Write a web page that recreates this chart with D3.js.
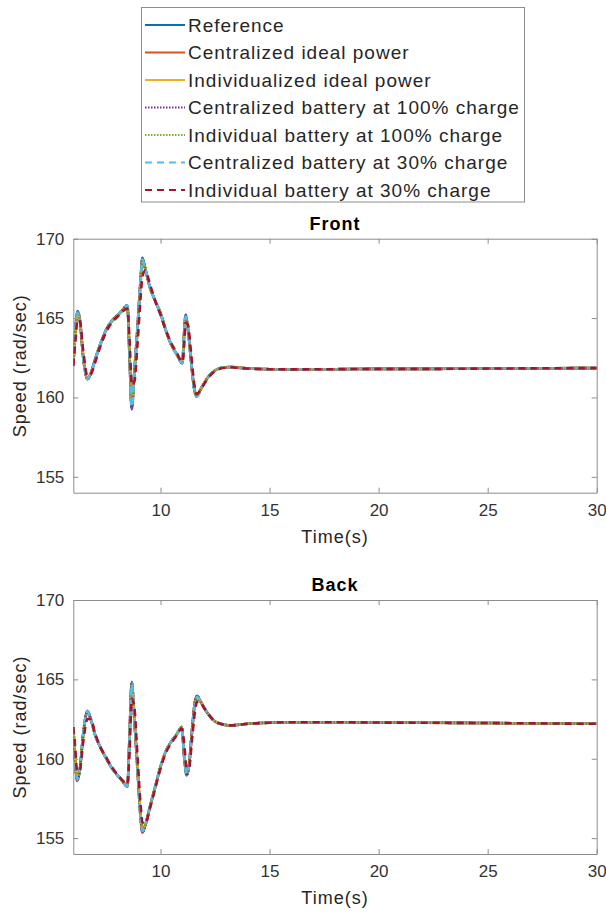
<!DOCTYPE html>
<html>
<head>
<meta charset="utf-8">
<script src="https://cdn.jsdelivr.net/npm/d3@7"></script>
<style>
  body { margin: 0; background: #fff; }
  svg text { font-family: "Liberation Sans", Arial, sans-serif; fill: #262626; }
</style>
</head>
<body>
<div id="chart"></div>
<script>
// series names and styles (legend order = draw order)
var seriesNames = [
  "Reference",
  "Centralized ideal power",
  "Individualized ideal power",
  "Centralized battery at 100% charge",
  "Individual battery at 100% charge",
  "Centralized battery at 30% charge",
  "Individual battery at 30% charge"
];
var seriesColors = ["#0072BD", "#D95319", "#EDB120", "#7E2F8E", "#77AC30", "#4DBEEE", "#A2142F"];
var seriesDash = [null, null, null, "1.5,1.5", "1.5,1.5", "7,5", "7,5"];

var xTicks = [10, 15, 20, 25, 30];
var yTicks = [155, 160, 165, 170];

// Front
var timeFront = [6.0, 6.1, 6.2, 6.3, 6.45, 6.65, 6.8, 7.0, 7.25, 7.5, 7.75, 8.0, 8.25, 8.48, 8.58, 8.68, 8.8, 8.95, 9.08, 9.17, 9.3, 9.5, 9.75, 10.0, 10.25, 10.5, 10.75, 11.0, 11.08, 11.15, 11.25, 11.4, 11.55, 11.66, 11.8, 12.0, 12.25, 12.5, 12.75, 13.0, 13.25, 13.5, 14.0, 15.0, 16.0, 18.0, 20.0, 22.0, 25.0, 28.0, 30.0];
var frontReference = [162.0, 164.3, 165.45, 164.9, 162.6, 161.15, 161.5, 162.4, 163.4, 164.25, 164.8, 165.15, 165.5, 165.8, 162.5, 159.25, 161.6, 164.5, 167.3, 168.8, 168.1, 167.0, 166.1, 165.3, 164.2, 163.3, 162.7, 162.15, 164.0, 165.2, 164.4, 162.3, 160.5, 160.05, 160.4, 160.9, 161.4, 161.7, 161.85, 161.9, 161.92, 161.88, 161.83, 161.78, 161.77, 161.78, 161.8, 161.8, 161.82, 161.84, 161.85];
var frontCentralizedIdeal = [162.0, 164.3, 165.4, 164.9, 162.6, 161.15, 161.5, 162.4, 163.4, 164.25, 164.8, 165.15, 165.5, 165.8, 162.55, 159.35, 161.6, 164.5, 167.3, 168.7, 168.1, 167.0, 166.1, 165.3, 164.2, 163.3, 162.7, 162.15, 164.0, 165.15, 164.4, 162.3, 160.5, 160.1, 160.4, 160.9, 161.4, 161.7, 161.85, 161.9, 161.92, 161.88, 161.83, 161.78, 161.77, 161.78, 161.8, 161.8, 161.82, 161.84, 161.85];
var frontIndividualizedIdeal = [162.0, 164.1, 165.3, 164.9, 162.7, 161.2, 161.5, 162.35, 163.35, 164.2, 164.75, 165.1, 165.45, 165.75, 162.8, 159.6, 161.4, 164.3, 167.1, 168.5, 168.1, 167.0, 166.1, 165.3, 164.2, 163.3, 162.7, 162.2, 163.8, 165.0, 164.4, 162.4, 160.6, 160.1, 160.4, 160.9, 161.4, 161.7, 161.85, 161.9, 161.92, 161.88, 161.83, 161.78, 161.77, 161.78, 161.8, 161.8, 161.82, 161.84, 161.85];
var frontCentralized100 = [162.0, 164.3, 165.4, 164.9, 162.6, 161.15, 161.5, 162.4, 163.4, 164.25, 164.8, 165.15, 165.5, 165.8, 162.5, 159.3, 161.6, 164.5, 167.3, 168.75, 168.1, 167.0, 166.1, 165.3, 164.2, 163.3, 162.7, 162.15, 164.0, 165.2, 164.4, 162.3, 160.5, 160.05, 160.4, 160.9, 161.4, 161.7, 161.85, 161.9, 161.92, 161.88, 161.83, 161.78, 161.77, 161.78, 161.8, 161.8, 161.82, 161.84, 161.85];
var frontIndividual100 = [162.0, 164.1, 165.3, 164.9, 162.7, 161.2, 161.5, 162.35, 163.35, 164.2, 164.75, 165.1, 165.45, 165.75, 162.7, 159.5, 161.4, 164.3, 167.1, 168.6, 168.1, 167.0, 166.1, 165.3, 164.2, 163.3, 162.7, 162.2, 163.8, 165.0, 164.4, 162.4, 160.6, 160.1, 160.4, 160.9, 161.4, 161.7, 161.85, 161.9, 161.92, 161.88, 161.83, 161.78, 161.77, 161.78, 161.8, 161.8, 161.82, 161.84, 161.85];
var frontCentralized30 = [162.0, 164.25, 165.35, 164.9, 162.6, 161.15, 161.5, 162.4, 163.4, 164.25, 164.8, 165.15, 165.5, 165.8, 162.6, 159.4, 161.6, 164.5, 167.3, 168.7, 168.1, 167.0, 166.1, 165.3, 164.2, 163.3, 162.7, 162.15, 163.95, 165.1, 164.4, 162.3, 160.5, 160.05, 160.4, 160.9, 161.4, 161.7, 161.85, 161.9, 161.92, 161.88, 161.83, 161.78, 161.77, 161.78, 161.8, 161.8, 161.82, 161.84, 161.85];
var frontIndividual30 = [162.0, 163.6, 164.9, 164.8, 163.0, 161.35, 161.45, 162.2, 163.25, 164.1, 164.7, 165.05, 165.4, 165.6, 163.6, 160.8, 161.0, 163.5, 166.2, 167.6, 168.0, 167.2, 166.1, 165.2, 164.2, 163.4, 162.8, 162.25, 163.2, 164.7, 164.6, 162.8, 160.8, 160.2, 160.4, 160.85, 161.35, 161.65, 161.82, 161.88, 161.9, 161.87, 161.82, 161.78, 161.77, 161.78, 161.8, 161.8, 161.82, 161.84, 161.85];

// Back
var timeBack = [6.0, 6.08, 6.18, 6.3, 6.45, 6.65, 6.8, 7.0, 7.25, 7.5, 7.75, 8.0, 8.25, 8.48, 8.58, 8.68, 8.8, 8.95, 9.08, 9.17, 9.3, 9.5, 9.75, 10.0, 10.25, 10.5, 10.75, 10.97, 11.08, 11.2, 11.3, 11.45, 11.58, 11.68, 11.8, 12.0, 12.25, 12.5, 12.75, 13.0, 13.25, 13.5, 14.0, 15.0, 16.0, 18.0, 20.0, 22.0, 25.0, 28.0, 30.0];
var backReference = [162.0, 160.0, 158.6, 159.3, 161.5, 163.0, 162.5, 161.5, 160.7, 160.05, 159.45, 159.0, 158.6, 158.25, 161.5, 164.85, 162.5, 159.2, 156.4, 155.35, 155.8, 156.9, 158.2, 159.5, 160.5, 161.1, 161.55, 162.0, 160.2, 158.95, 159.5, 161.9, 163.6, 163.97, 163.7, 163.2, 162.7, 162.35, 162.2, 162.12, 162.1, 162.13, 162.2, 162.27, 162.3, 162.3, 162.28, 162.27, 162.25, 162.22, 162.2];
var backCentralizedIdeal = [162.0, 160.0, 158.65, 159.3, 161.5, 163.0, 162.5, 161.5, 160.7, 160.05, 159.45, 159.0, 158.6, 158.25, 161.5, 164.8, 162.5, 159.2, 156.4, 155.4, 155.8, 156.9, 158.2, 159.5, 160.5, 161.1, 161.55, 162.0, 160.2, 159.0, 159.5, 161.9, 163.6, 163.95, 163.7, 163.2, 162.7, 162.35, 162.2, 162.12, 162.1, 162.13, 162.2, 162.27, 162.3, 162.3, 162.28, 162.27, 162.25, 162.22, 162.2];
var backIndividualizedIdeal = [162.0, 160.3, 158.8, 159.3, 161.4, 162.9, 162.5, 161.5, 160.7, 160.05, 159.45, 159.0, 158.6, 158.3, 161.2, 164.6, 162.7, 159.4, 156.6, 155.6, 155.85, 156.9, 158.2, 159.5, 160.5, 161.1, 161.55, 162.0, 160.4, 159.1, 159.5, 161.7, 163.4, 163.85, 163.7, 163.2, 162.7, 162.35, 162.2, 162.12, 162.1, 162.13, 162.2, 162.27, 162.3, 162.3, 162.28, 162.27, 162.25, 162.22, 162.2];
var backCentralized100 = [162.0, 160.0, 158.65, 159.3, 161.5, 163.0, 162.5, 161.5, 160.7, 160.05, 159.45, 159.0, 158.6, 158.25, 161.5, 164.8, 162.5, 159.2, 156.4, 155.4, 155.8, 156.9, 158.2, 159.5, 160.5, 161.1, 161.55, 162.0, 160.2, 158.95, 159.5, 161.9, 163.6, 163.97, 163.7, 163.2, 162.7, 162.35, 162.2, 162.12, 162.1, 162.13, 162.2, 162.27, 162.3, 162.3, 162.28, 162.27, 162.25, 162.22, 162.2];
var backIndividual100 = [162.0, 160.3, 158.8, 159.3, 161.4, 162.9, 162.5, 161.5, 160.7, 160.05, 159.45, 159.0, 158.6, 158.3, 161.2, 164.6, 162.7, 159.4, 156.6, 155.6, 155.85, 156.9, 158.2, 159.5, 160.5, 161.1, 161.55, 162.0, 160.4, 159.1, 159.5, 161.7, 163.4, 163.85, 163.7, 163.2, 162.7, 162.35, 162.2, 162.12, 162.1, 162.13, 162.2, 162.27, 162.3, 162.3, 162.28, 162.27, 162.25, 162.22, 162.2];
var backCentralized30 = [162.0, 160.1, 158.7, 159.3, 161.5, 163.0, 162.5, 161.5, 160.7, 160.05, 159.45, 159.0, 158.6, 158.25, 161.4, 164.75, 162.6, 159.3, 156.45, 155.45, 155.8, 156.9, 158.2, 159.5, 160.5, 161.1, 161.55, 162.0, 160.3, 159.05, 159.5, 161.8, 163.5, 163.9, 163.7, 163.2, 162.7, 162.35, 162.2, 162.12, 162.1, 162.13, 162.2, 162.27, 162.3, 162.3, 162.28, 162.27, 162.25, 162.22, 162.2];
var backIndividual30 = [162.0, 160.8, 159.2, 159.3, 161.0, 162.5, 162.5, 161.6, 160.7, 160.1, 159.5, 159.05, 158.65, 158.4, 160.5, 163.8, 163.2, 160.0, 157.2, 156.0, 155.9, 156.8, 158.1, 159.4, 160.4, 161.0, 161.5, 161.9, 161.0, 159.4, 159.4, 161.3, 163.0, 163.6, 163.6, 163.2, 162.7, 162.35, 162.2, 162.12, 162.1, 162.13, 162.2, 162.27, 162.3, 162.3, 162.28, 162.27, 162.25, 162.22, 162.2];

var frontValues = [frontReference, frontCentralizedIdeal, frontIndividualizedIdeal, frontCentralized100, frontIndividual100, frontCentralized30, frontIndividual30];
var backValues = [backReference, backCentralizedIdeal, backIndividualizedIdeal, backCentralized100, backIndividual100, backCentralized30, backIndividual30];

var width = 606,
    height = 912,
    plotLeft = 73.3,
    plotWidth = 523.4,
    plotHeight = 254;

var svg = d3.select("#chart")
    .append("svg")
    .attr("width", width)
    .attr("height", height);

function drawPanel(top, title, times, values, id) {
    var x = d3.scaleLinear().domain([6, 30]).range([0, plotWidth]);
    var y = d3.scaleLinear().domain([154, 170]).range([plotHeight, 0]);

    var g = svg.append("g").attr("transform", "translate(" + plotLeft + "," + top + ")");

    g.append("defs").append("clipPath").attr("id", "clip" + id)
        .append("rect").attr("width", plotWidth).attr("height", plotHeight);

    // box with inward ticks on all four sides
    g.append("g").attr("transform", "translate(0," + plotHeight + ")")
        .call(d3.axisBottom(x).tickValues(xTicks).tickSizeInner(-5).tickSizeOuter(0).tickPadding(11))
        .call(styleAxis);
    g.append("g")
        .call(d3.axisTop(x).tickValues(xTicks).tickSizeInner(-5).tickSizeOuter(0).tickFormat(""))
        .call(styleAxis);
    g.append("g")
        .call(d3.axisLeft(y).tickValues(yTicks).tickSizeInner(-5).tickSizeOuter(0).tickPadding(9))
        .call(styleAxis);
    g.append("g").attr("transform", "translate(" + plotWidth + ",0)")
        .call(d3.axisRight(y).tickValues(yTicks).tickSizeInner(-5).tickSizeOuter(0).tickFormat(""))
        .call(styleAxis);

    var line = d3.line()
        .x(function(d) { return x(d[0]); })
        .y(function(d) { return y(d[1]); })
        .curve(d3.curveMonotoneX);

    var lines = g.append("g").attr("clip-path", "url(#clip" + id + ")");
    values.forEach(function(vals, i) {
        lines.append("path")
            .datum(times.map(function(t, j) { return [t, vals[j]]; }))
            .attr("d", line)
            .attr("fill", "none")
            .attr("stroke", seriesColors[i])
            .attr("stroke-width", 2.6)
            .attr("stroke-dasharray", seriesDash[i]);
    });

    g.append("text")
        .attr("x", plotWidth / 2).attr("y", -9)
        .attr("text-anchor", "middle")
        .attr("font-size", 18).attr("font-weight", "bold")
        .attr("letter-spacing", 1)
        .style("fill", "#000")
        .text(title);

    g.append("text")
        .attr("x", plotWidth / 2).attr("y", plotHeight + 50)
        .attr("text-anchor", "middle")
        .attr("font-size", 18)
        .attr("letter-spacing", 1)
        .text("Time(s)");

    g.append("text")
        .attr("transform", "translate(" + (-47) + "," + (plotHeight / 2) + ") rotate(-90)")
        .attr("text-anchor", "middle")
        .attr("font-size", 18)
        .attr("letter-spacing", 1)
        .text("Speed (rad/sec)");
}

function styleAxis(sel) {
    sel.select(".domain").attr("stroke", "#8c8c8c");
    sel.selectAll(".tick line").attr("stroke", "#8c8c8c");
    sel.selectAll(".tick text").attr("font-size", 17).attr("font-family", null).style("fill", "#333");
}

drawPanel(238.7, "Front", timeFront, frontValues, "front");
drawPanel(600, "Back", timeBack, backValues, "back");

// legend
var legend = svg.append("g");
legend.append("rect")
    .attr("x", 141.5).attr("y", 7.5)
    .attr("width", 383).attr("height", 194.5)
    .attr("fill", "#fff").attr("stroke", "#8c8c8c");

var row = d3.scaleLinear().domain([0, 6]).range([25, 190]);
seriesNames.forEach(function(name, i) {
    legend.append("line")
        .attr("x1", 145).attr("x2", 185)
        .attr("y1", row(i)).attr("y2", row(i))
        .attr("stroke", seriesColors[i])
        .attr("stroke-width", 2)
        .attr("stroke-dasharray", seriesDash[i]);
    legend.append("text")
        .attr("x", 188).attr("y", row(i))
        .attr("dy", "0.35em")
        .attr("font-size", 19)
        .attr("letter-spacing", 1)
        .text(name);
});
</script>
</body>
</html>
